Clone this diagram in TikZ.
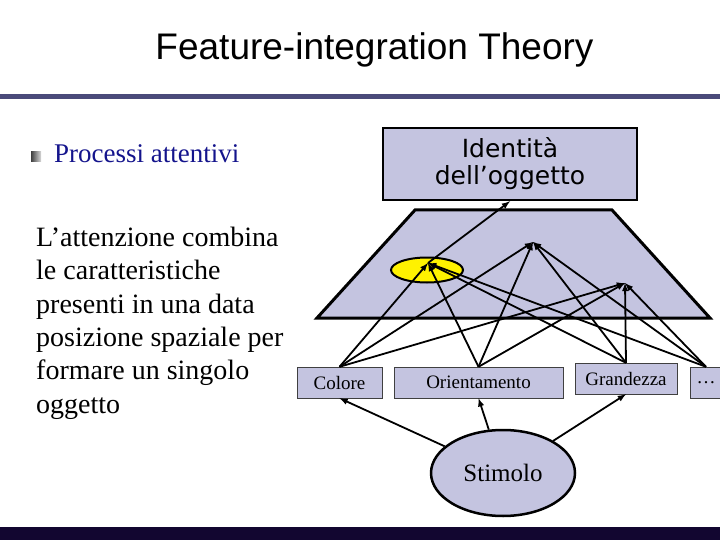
\documentclass[tikz,border=0pt]{standalone}
\usepackage{fontspec}
\setmainfont{Liberation Serif}
\setsansfont{Liberation Sans}
\newfontfamily\idfont{DejaVu Sans}
\usetikzlibrary{shapes.geometric,arrows}

\definecolor{lavanda}{RGB}{196,196,224}
\definecolor{riga}{RGB}{74,74,122}
\definecolor{fondo}{RGB}{18,6,48}
\definecolor{blu}{RGB}{20,20,140}

\begin{document}
\begin{tikzpicture}[x=1pt,y=-1pt,
    feat/.style={draw=black!75,fill=lavanda,minimum height=31pt,inner sep=0pt,
                 font=\fontsize{19}{22}\selectfont},
    freccia/.style={->,>=latex,line width=1.8pt}]
  \useasboundingbox (0,0) rectangle (720,540);

  % titolo e barre
  \node[anchor=base,font=\sffamily\fontsize{37}{40}\selectfont] (titolo) at (374.5,60) {Feature-integration Theory};
  \fill[riga] (0,94) rectangle (720,99);
  \fill[fondo] (0,527) rectangle (720,540);

  % testo a sinistra
  \shade[left color=black!75,right color=black!15] (31,152) rectangle (41,162);
  \node[anchor=base west,inner sep=0pt,text=blu,font=\fontsize{27}{30}\selectfont] (proc) at (54,163) {Processi attentivi};
  \node[anchor=north west,inner sep=0pt,align=left,font=\fontsize{28}{33.3}\selectfont] (spieg) at (36,227)
       {L’attenzione combina\\le caratteristiche\\presenti in una data\\posizione spaziale per\\formare un singolo\\oggetto};

  % mappa delle posizioni
  \draw[line width=3pt,fill=lavanda] (415,210) -- (612,210) -- (710,318) -- (317,318) -- cycle;
  \node[ellipse,draw,line width=2pt,fill=yellow,minimum width=72pt,minimum height=25pt,inner sep=0pt] (fuoco) at (427,270) {};
  \coordinate (pA) at (428,263);
  \coordinate (pB) at (533,242);
  \coordinate (pC) at (625,283);

  \node[draw,line width=2.5pt,fill=lavanda,minimum width=254pt,minimum height=72pt,align=center,
        font=\idfont\fontsize{25}{27}\selectfont] (ident) at (510,164) {Identità\\dell’oggetto};

  % caratteristiche
  \node[feat,minimum width=85pt] (col) at (339.5,382.5) {Colore};
  \node[feat,minimum width=169pt] (ori) at (478.5,382.5) {Orientamento};
  \node[feat,minimum width=102pt] (gra) at (626,378.5) {Grandezza};
  \node[feat,minimum width=32pt] (dots) at (706,382.5) {\dots};

  \node[ellipse,draw,line width=2.5pt,fill=lavanda,minimum width=144pt,minimum height=86pt,
        font=\fontsize{25}{28}\selectfont] (stim) at (503,473) {Stimolo};

  % frecce
  \foreach \f in {col,ori,gra,dots}
    \foreach \p in {pA,pB,pC}
      \draw[freccia] (\f.north) -- (\p);
  \draw[freccia] (pA) -- (ident.south);
  \foreach \f in {col,ori,gra}
    \draw[freccia] (stim) -- (\f.south);
\end{tikzpicture}
\end{document}
